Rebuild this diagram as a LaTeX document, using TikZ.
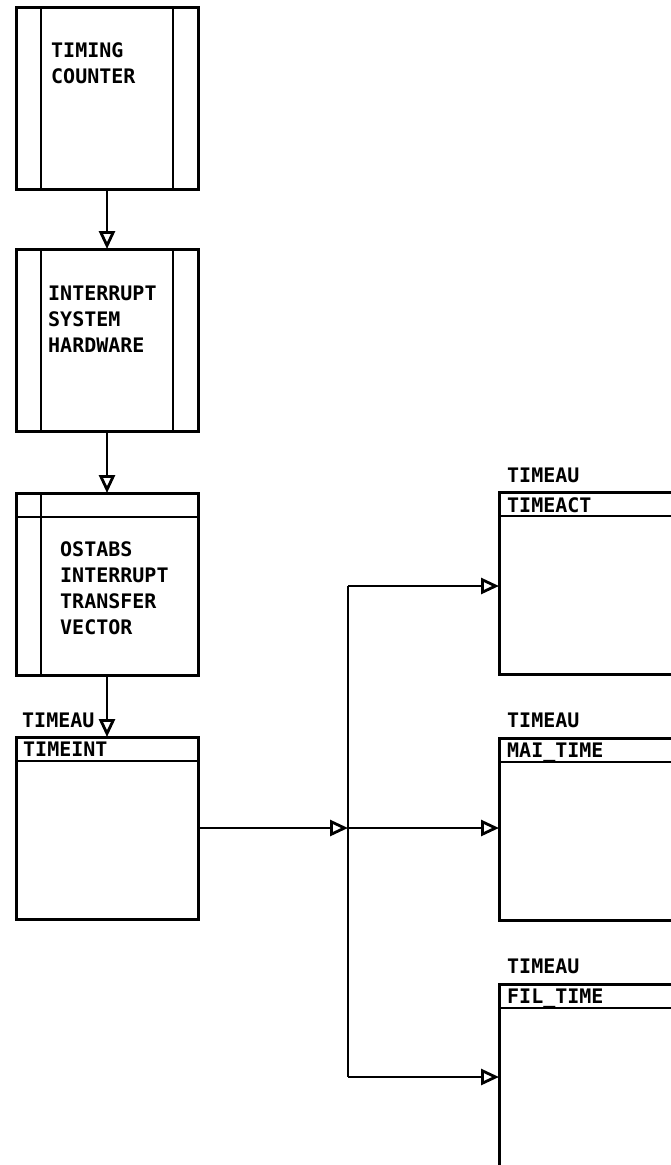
\documentclass[tikz,border=0pt]{standalone}
\usepackage{fontspec}
\setmonofont{DejaVu Sans Mono}
\usetikzlibrary{arrows.meta,positioning}
\begin{document}
\begin{tikzpicture}[x=1pt,y=-1pt,
proc/.style={draw,rectangle,line width=3pt,minimum width=182pt,minimum height=182pt,inner sep=0pt,outer sep=0pt},
store/.style={proc,minimum width=190pt},
txt/.style={font=\ttfamily\bfseries\fontsize{20}{26}\selectfont,align=left,anchor=base west,inner sep=0pt},
inner/.style={line width=2.6pt},
arr/.style={line width=2.6pt,-{Triangle[open,length=18pt,width=16pt,line width=2.8pt]}}]
\useasboundingbox (0,0) rectangle (671,1165);
\clip (0,0) rectangle (671,1165);
% processing boxes
\node[proc] (c1) at (107,98) {};
\node[proc] (c2) at (107,340) {};
\node[proc] (c3) at (107,584) {};
\foreach \b in {c1,c2} {
\draw[inner] ([xshift=25pt]\b.north west) -- ([xshift=25pt]\b.south west);
\draw[inner] ([xshift=-25pt]\b.north east) -- ([xshift=-25pt]\b.south east);
}
\draw[inner] ([xshift=25pt]c3.north west) -- ([xshift=25pt]c3.south west);
\draw[inner] ([yshift=-24pt]c3.north west) -- ([yshift=-24pt]c3.north east);
% base anchor sits on the last line
\node[txt] (c1t) at (51,83) {TIMING\\COUNTER};
\node[txt] (c2t) at (48,352) {INTERRUPT\\SYSTEM\\HARDWARE};
\node[txt] (c3t) at (60,634) {OSTABS\\INTERRUPT\\TRANSFER\\VECTOR};
% data areas
\node[proc] (ti) at (107,828) {};
\node[store] (act) at (594,583) {};
\node[store] (mt) at (594,829) {};
\node[store,minimum height=190pt] (fil) at (594,1079) {};
\foreach \b in {ti,act,mt,fil}
\draw[inner] ([yshift=-24pt]\b.north west) -- ([yshift=-24pt]\b.north east);
\node[txt] (tiu) at (22,727) {TIMEAU};
\node[txt] (tin) at (23,756) {TIMEINT};
\node[txt] (actu) at (507,482) {TIMEAU};
\node[txt] (actn) at (507,512) {TIMEACT};
\node[txt] (mtu) at (507,727) {TIMEAU};
\node[txt] (mtn) at (507,757) {MAI\_TIME};
\node[txt] (filu) at (507,973) {TIMEAU};
\node[txt] (filn) at (507,1003) {FIL\_TIME};
% connections
\coordinate (j) at (348,828);
\coordinate (jt) at (348,586);
\coordinate (jb) at (348,1077);
\draw[arr] (c1) -- (c2);
\draw[arr] (c2) -- (c3);
\draw[arr] (c3) -- (ti);
\draw[arr] (ti.east) -- (j);
\draw[arr] (j) -- (mt.west |- j);
\draw[inner] (jt) -- (jb);
\draw[arr] (jt) -- (act.west |- jt);
\draw[arr] (jb) -- (fil.west |- jb);
\end{tikzpicture}
\end{document}
